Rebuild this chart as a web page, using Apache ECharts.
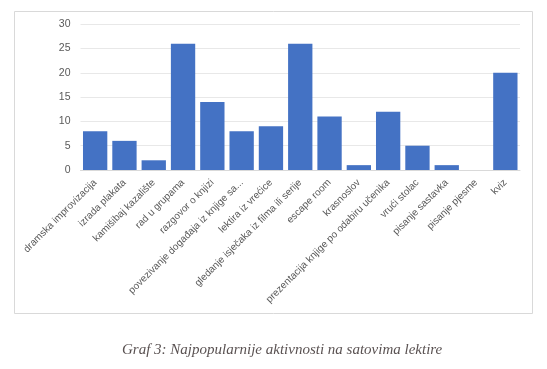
<!DOCTYPE html>
<html><head><meta charset="utf-8">
<script src="https://cdn.jsdelivr.net/npm/echarts@6/dist/echarts.min.js"></script>
<style>html,body{margin:0;padding:0;background:#fff}#c{width:547px;height:369px}</style>
</head><body><div id="c"></div>
<script>
const categories = ["dramska improvizacija","izrada plakata","kamišibaj kazalište","rad u grupama","razgovor o knjizi","povezivanje događaja iz knjige sa...","lektira iz vrećice","gledanje isječaka iz filma ili serije","escape room","krasnoslov","prezentacija knjige po odabiru učenika","vrući stolac","pisanje sastavka","pisanje pjesme","kviz"];
const values = [8,6,2,26,14,8,9,26,11,1,12,5,1,0,20];
const yTicks = {min:0,max:30,interval:5};
const caption = "Graf 3: Najpopularnije aktivnosti na satovima lektire";

const chart = echarts.init(document.getElementById('c'), null, {renderer:'canvas'});
chart.setOption({
  animation:false,
  backgroundColor:'#fff',
  graphic:[
    {type:'rect',shape:{x:14.5,y:11.5,width:518,height:302},style:{fill:'none',stroke:'#d9d9d9',lineWidth:1},z:-1},
    {type:'text',left:122,top:343,style:{text:caption,font:'italic 15px "Liberation Serif", "DejaVu Serif", serif',fill:'#5a5252'}}
  ],
  grid:{left:80.5,right:27,top:24.3,bottom:199,containLabel:false},
  xAxis:{type:'category',data:categories,
    axisLine:{lineStyle:{color:'#d9d9d9'}},axisTick:{show:false},
    axisLabel:{rotate:45,interval:0,fontSize:10,color:'#595959',fontFamily:'"Liberation Sans", sans-serif',margin:11}},
  yAxis:{type:'value',min:yTicks.min,max:yTicks.max,interval:yTicks.interval,
    axisLine:{show:false},axisTick:{show:false},
    splitLine:{lineStyle:{color:'#e8e8e8'}},
    axisLabel:{fontSize:10.5,color:'#595959',margin:10,fontFamily:'"Liberation Sans", sans-serif'}},
  series:[{type:'bar',data:values,barCategoryGap:'17%',itemStyle:{color:'#4472c4'}}]
});
</script></body></html>
